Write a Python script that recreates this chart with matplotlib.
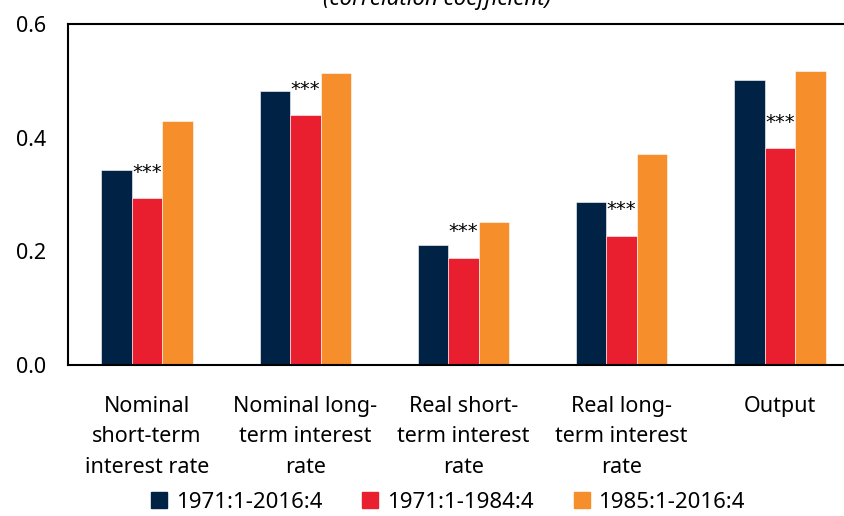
import numpy as np
import matplotlib
matplotlib.use("Agg")
import matplotlib.pyplot as plt
from matplotlib.patches import Patch

# Data
categories = [
    "Nominal\nshort-term\ninterest rate",
    "Nominal long-\nterm interest\nrate",
    "Real short-\nterm interest\nrate",
    "Real long-\nterm interest\nrate",
    "Output",
]
series_names = ["1971:1-2016:4", "1971:1-1984:4", "1985:1-2016:4"]
full_sample = [0.343, 0.482, 0.211, 0.287, 0.502]
early_sample = [0.293, 0.439, 0.188, 0.227, 0.381]
late_sample = [0.429, 0.514, 0.252, 0.372, 0.518]
significance = ["***", "***", "***", "***", "***"]
yticks = [0.0, 0.2, 0.4, 0.6]

NAVY = "#002245"
RED = "#e91f2f"
ORANGE = "#f68e2c"
colors = [NAVY, RED, ORANGE]

plt.rcParams["font.family"] = ["Noto Sans", "DejaVu Sans"]

fig = plt.figure(figsize=(8.45, 5.16), dpi=100)
ax = fig.add_axes([0.0805, 0.2926, 0.936, 0.661])

x = np.arange(len(categories))
width = 0.193
for i, (vals, col) in enumerate(zip([full_sample, early_sample, late_sample], colors)):
    ax.bar(x + (i - 1) * width, vals, width, color=col, edgecolor="white",
           linewidth=0.4)

# significance stars above the middle bar
for xi, v, s in zip(x, early_sample, significance):
    ax.annotate(s, (xi, v), xytext=(0, 19), textcoords="offset points",
                ha="center", va="center", fontsize=14, family="DejaVu Sans")

ax.set_xlim(-0.5, 4.5)
ax.set_ylim(0, 0.6)
ax.set_yticks(yticks)
ax.set_yticklabels([f"{t:.1f}" for t in yticks], fontsize=15.5)
ax.tick_params(axis="y", length=0, pad=16)
ax.tick_params(axis="x", length=0, pad=22)
ax.set_xticks(x)
ax.set_xticklabels(categories, fontsize=15.5, linespacing=1.6)
for side in ["left", "bottom", "top", "right"]:
    ax.spines[side].set_linewidth(1.5)
    ax.spines[side].set_color("black")

fig.text(0.517, 1.0, "(correlation coefficient)", ha="center", va="center",
         fontsize=16, style="italic")

handles = [Patch(color=c) for c in colors]
fig.legend(handles, series_names, loc="center", bbox_to_anchor=(0.53, 0.026),
           ncol=3, frameon=False, fontsize=16, handlelength=0.72,
           handleheight=0.72, handletextpad=0.4, columnspacing=1.8)

fig.savefig("out.png", dpi=100)
